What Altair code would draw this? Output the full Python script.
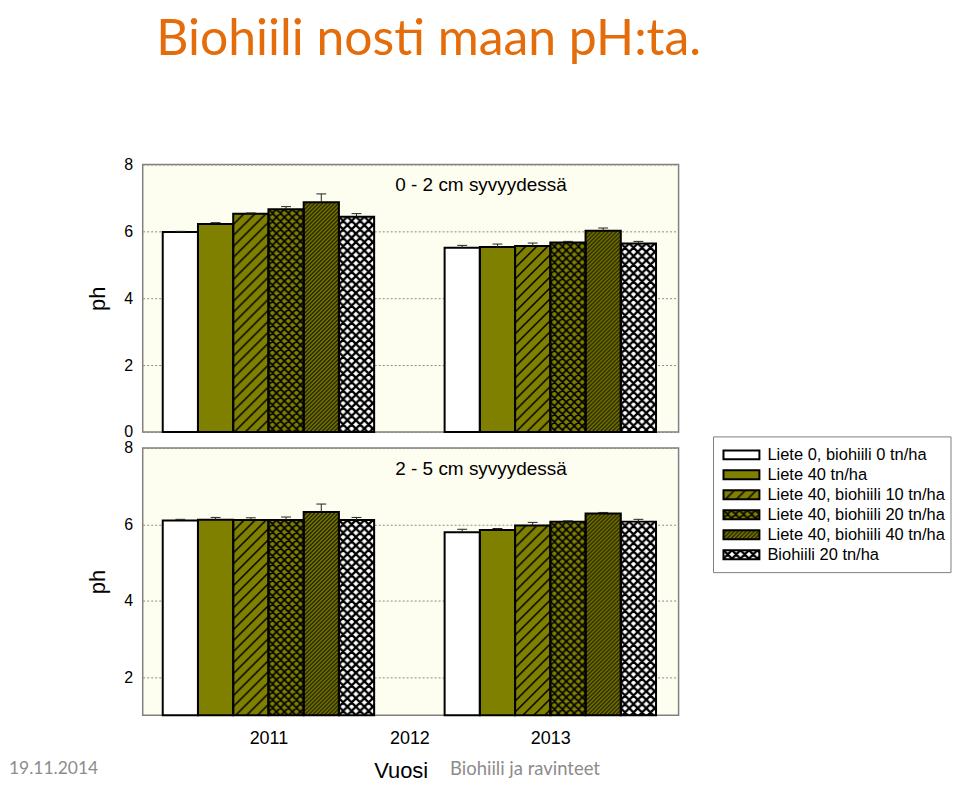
import base64
import altair as alt
import pandas as pd

# ---------------- data ----------------
treatments = [
    "Liete 0, biohiili 0 tn/ha",
    "Liete 40 tn/ha",
    "Liete 40, biohiili 10 tn/ha",
    "Liete 40, biohiili 20 tn/ha",
    "Liete 40, biohiili 40 tn/ha",
    "Biohiili 20 tn/ha",
]
bar_years = [2011, 2013]
axis_years = [2011, 2012, 2013]

ph_0_2_2011 = [5.98, 6.22, 6.53, 6.66, 6.87, 6.44]
err_0_2_2011 = [0.02, 0.04, 0.02, 0.08, 0.25, 0.09]
ph_0_2_2013 = [5.51, 5.53, 5.56, 5.67, 6.02, 5.64]
err_0_2_2013 = [0.07, 0.09, 0.09, 0.03, 0.08, 0.06]

ph_2_5_2011 = [6.10, 6.12, 6.11, 6.11, 6.32, 6.11]
err_2_5_2011 = [0.03, 0.06, 0.06, 0.08, 0.21, 0.07]
ph_2_5_2013 = [5.79, 5.85, 5.97, 6.07, 6.28, 6.07]
err_2_5_2013 = [0.08, 0.04, 0.08, 0.02, 0.03, 0.06]

panel_titles = ["0 - 2 cm syvyydessä", "2 - 5 cm syvyydessä"]
slide_title = ["Biohiili nosti maan pH:ta."]
footer_date = ["19.11.2014"]
footer_topic = ["Biohiili ja ravinteet"]
x_title = ["Vuosi"]
y_title = "ph"

# ---------------- styles ----------------
OLIVE = "#808000"
fills = ["#ffffff", OLIVE, OLIVE, OLIVE, OLIVE, "#ffffff"]


def svg_pattern(s, w, cross):
    d = f"M-1,1 L1,-1 M0,{s} L{s},0 M{s-1},{s+1} L{s+1},{s-1}"
    if cross:
        d += f" M-1,{s-1} L1,{s+1} M0,0 L{s},{s} M{s-1},-1 L{s+1},1"
    svg = (
        "<svg xmlns='http://www.w3.org/2000/svg' width='100%' height='100%'>"
        f"<defs><pattern id='p' x='0' y='0' width='{s}' height='{s}' patternUnits='userSpaceOnUse'>"
        f"<path d='{d}' stroke='#000' stroke-width='{w}' fill='none'/></pattern></defs>"
        "<rect x='0' y='0' width='100%' height='100%' fill='url(#p)'/></svg>"
    )
    return "data:image/svg+xml;base64," + base64.b64encode(svg.encode()).decode()


patterns = [
    "",
    "",
    svg_pattern(11, 1.5, False),
    svg_pattern(8, 1.7, True),
    svg_pattern(4, 1.1, False),
    svg_pattern(8.5, 2.3, True),
]

FONT = "Liberation Sans"
BAR_W = 0.25
x_scale = alt.Scale(domain=[2010.108, 2013.91], nice=False, zero=False)
color_scale = alt.Scale(domain=treatments, range=fills)
view_bg = alt.ViewBackground(fill="#FEFEF0", stroke="#808080", strokeWidth=1.5)


def panel(v11, e11, v13, e13, title, base, yticks, bottom, extra):
    df = pd.DataFrame({
        "treatment": treatments * 2,
        "idx": list(range(6)) * 2,
        "year": [bar_years[0]] * 6 + [bar_years[1]] * 6,
        "ph": v11 + v13,
        "err": e11 + e13,
    })
    df["pattern"] = df["idx"].map(lambda i: patterns[i])

    if bottom:
        xax = alt.Axis(values=axis_years, format="d", labelFontSize=18, labelFont=FONT,
                       labelColor="black", ticks=False, tickSize=0, domain=False, grid=False,
                       title=None, labelPadding=14, labelFlush=False)
    else:
        xax = None
    yax = alt.Axis(values=yticks, grid=True, gridDash=[2, 2], gridColor="#8a8a8a", gridWidth=1,
                   domain=False, ticks=False, tickSize=0, labelPadding=10, labelFontSize=16,
                   labelFont=FONT, labelColor="black", title=y_title, titleFontSize=22,
                   titleFont=FONT, titleFontWeight="normal", titleColor="black", titlePadding=14)
    y_scale = alt.Scale(domain=[base, 8], nice=False, zero=False)

    def X(f):
        return alt.X(f, scale=x_scale, axis=xax)

    def Y(f):
        return alt.Y(f, scale=y_scale, axis=yax)

    b = alt.Chart(df).transform_calculate(
        x0=f"datum.year + (datum.idx - 3) * {BAR_W}",
        x1=f"datum.year + (datum.idx - 2) * {BAR_W}",
        xc=f"datum.year + (datum.idx - 2.5) * {BAR_W}",
        c0=f"datum.year + (datum.idx - 2.5) * {BAR_W} - 0.035",
        c1=f"datum.year + (datum.idx - 2.5) * {BAR_W} + 0.035",
        top="datum.ph + datum.err",
    )
    fill_l = b.mark_rect().encode(
        x=X("x0:Q"), x2="x1:Q", y=Y("ph:Q"), y2=alt.datum(base),
        color=alt.Color("treatment:N", scale=color_scale, legend=None),
    )
    pat_l = b.transform_filter("datum.pattern != ''").mark_image(aspect=False).encode(
        x=X("x0:Q"), x2="x1:Q", y=Y("ph:Q"), y2=alt.datum(base), url="pattern:N",
    )
    out_l = b.mark_rect(fill="transparent", stroke="black", strokeWidth=2).encode(
        x=X("x0:Q"), x2="x1:Q", y=Y("ph:Q"), y2=alt.datum(base),
    )
    err_l = b.mark_rule(color="#222222", strokeWidth=1).encode(
        x=X("xc:Q"), y=Y("ph:Q"), y2="top:Q",
    )
    cap_l = b.mark_rule(color="#222222", strokeWidth=1).encode(
        x=X("c0:Q"), x2="c1:Q", y=Y("top:Q"),
    )
    ttl = alt.Chart(pd.DataFrame({"t": [title]})).mark_text(
        font=FONT, fontSize=19, color="black", align="center", baseline="middle",
    ).encode(x=alt.value(339), y=alt.value(21), text="t:N")

    layers = [fill_l, pat_l, out_l, err_l, cap_l, ttl] + extra
    return alt.layer(*layers).properties(width=537, height=268, view=view_bg)


title_l = alt.Chart(pd.DataFrame({"t": slide_title})).mark_text(
    font="Lato", fontSize=50, color="#E46C0A", align="left", baseline="alphabetic",
).encode(x=alt.value(13.5), y=alt.value(-110), text="t:N")

date_l = alt.Chart(pd.DataFrame({"t": footer_date})).mark_text(
    font="Lato", fontSize=17.5, color="#8c8c8c", align="left", baseline="middle",
).encode(x=alt.value(-134), y=alt.value(322), text="t:N")
topic_l = alt.Chart(pd.DataFrame({"t": footer_topic})).mark_text(
    font="Lato", fontSize=18.5, color="#8c8c8c", align="left", baseline="middle",
).encode(x=alt.value(308), y=alt.value(322), text="t:N")
vuosi_l = alt.Chart(pd.DataFrame({"t": x_title})).mark_text(
    font=FONT, fontSize=22, color="black", align="center", baseline="middle",
).encode(x=alt.value(259), y=alt.value(324), text="t:N")

top = panel(ph_0_2_2011, err_0_2_2011, ph_0_2_2013, err_0_2_2013, panel_titles[0],
            0, [0, 2, 4, 6, 8], False, [title_l])
bottom = panel(ph_2_5_2011, err_2_5_2011, ph_2_5_2013, err_2_5_2013, panel_titles[1],
               1, [2, 4, 6, 8], True, [date_l, topic_l, vuosi_l])

# ---------------- legend ----------------
leg_df = pd.DataFrame({"treatment": treatments, "pattern": patterns})
leg_y = alt.Y("treatment:N", sort=treatments, axis=None,
              scale=alt.Scale(domain=treatments, paddingInner=0.55, paddingOuter=0.675))
lb = alt.Chart(leg_df)
box = alt.Chart(pd.DataFrame({"b": [0]})).mark_rect(
    fill="white", stroke="#808080", strokeWidth=1,
).encode(x=alt.value(0), x2=alt.value(238), y=alt.value(-11), y2=alt.value(125))
sw_fill = lb.mark_rect(yOffset=-11, y2Offset=-11).encode(
    x=alt.value(10), x2=alt.value(46), y=leg_y,
    color=alt.Color("treatment:N", scale=color_scale, legend=None),
)
sw_pat = lb.transform_filter("datum.pattern != ''").mark_image(
    aspect=False, yOffset=-11, y2Offset=-11,
).encode(x=alt.value(10), x2=alt.value(46), y=leg_y, url="pattern:N")
sw_out = lb.mark_rect(fill="transparent", stroke="black", strokeWidth=2,
                      yOffset=-11, y2Offset=-11).encode(
    x=alt.value(10), x2=alt.value(46), y=leg_y,
)
sw_txt = lb.mark_text(font=FONT, fontSize=16.5, color="black", align="left",
                      baseline="middle", yOffset=-11).encode(
    x=alt.value(54), y=leg_y, text="treatment:N",
)
legend = alt.layer(box, sw_fill, sw_pat, sw_out, sw_txt).properties(
    width=238, height=136,
    view=alt.ViewBackground(stroke="transparent", fill="transparent"),
)

row = alt.hconcat(bottom, legend, spacing=35, bounds="flush")
chart = alt.vconcat(top, row, spacing=16, bounds="flush").properties(
    padding={"top": 5, "left": 0, "right": 0, "bottom": 0}, background="white",
)

chart.save("out.html", embed_options={"renderer": "svg", "actions": False})
